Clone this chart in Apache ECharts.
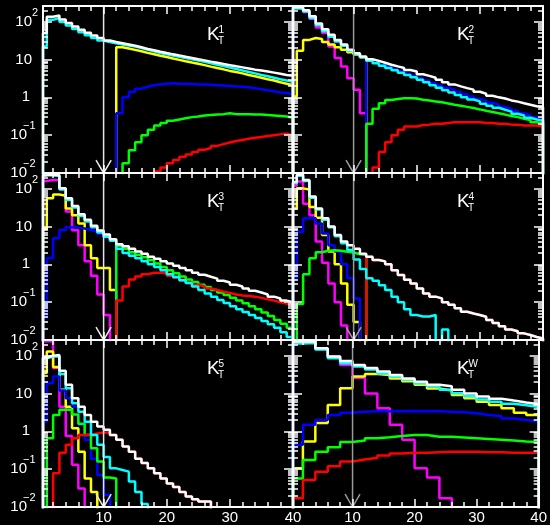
<!DOCTYPE html>
<html>
<head>
<meta charset="utf-8">
<title>K_T distributions</title>
<script src="https://cdn.jsdelivr.net/npm/echarts@6.0.0/dist/echarts.min.js"></script>
<style>
html,body{margin:0;padding:0;background:#000;}
#chart{width:550px;height:525px;}
</style>
</head>
<body>
<div id="chart"></div>
<script>
// ---------------- data ----------------
const panelSuperscripts = ['1', '2', '3', '4', '5', 'W'];
const binWidths = [1, 1, 1, 1, 1, 2];
const xTickLabels = [10, 20, 30, 40];
const xMinorTicks = [2, 4, 6, 8, 12, 14, 16, 18, 22, 24, 26, 28, 32, 34, 36, 38];
const yTickValues = [0.01, 0.1, 1, 10, 100];
const yMinorTicks = [0.02, 0.03, 0.04, 0.05, 0.06, 0.07, 0.08, 0.09,
  0.2, 0.3, 0.4, 0.5, 0.6, 0.7, 0.8, 0.9, 2, 3, 4, 5, 6, 7, 8, 9,
  20, 30, 40, 50, 60, 70, 80, 90, 200];
const cutValue = 10;

// K_T^1
const k1White = [50,136,145,115,92,75,61,51,43,37,
  32,29,27,25,23,21,19,17.5,16,14.8,
  13.7,12.7,11.8,11,10.2,9.5,8.8,8.2,7.6,7.1,
  6.6,6.2,5.8,5.4,5.1,4.8,4.5,4.2,3.9,3.7];
const k1Cyan = [22,112,125,98,79,64,53,44,37,32,
  29,27,25,23.5,22,20,18,16.5,14.8,13.8,
  12.8,11.9,11,10.2,9.4,8.7,8.0,7.3,6.7,6.1,
  5.6,5.1,4.7,4.3,3.9,3.6,3.3,3.0,2.8,2.6];
const k1Yellow = [0,0,0,0,0,0,0,0,0,0,
  0,0,21,19.5,18,16.5,15,13.8,12.6,11.6,
  10.6,9.8,9.0,8.3,7.7,7.1,6.5,6.0,5.5,5.0,
  4.7,4.3,3.9,3.6,3.3,3.0,2.8,2.5,2.3,2.1];
const k1Blue = [0,0,0,0,0,0,0,0,0,0,
  0,0,0.38,1.0,1.4,1.7,1.9,2.1,2.2,2.3,
  2.35,2.3,2.3,2.25,2.2,2.2,2.15,2.1,2.05,2.0,
  1.95,1.9,1.85,1.75,1.65,1.55,1.45,1.35,1.3,1.2];
const k1Green = [0,0,0,0,0,0,0,0,0,0,
  0,0,0,0.018,0.04,0.065,0.1,0.14,0.18,0.21,
  0.24,0.26,0.28,0.3,0.31,0.33,0.34,0.35,0.36,0.38,
  0.36,0.36,0.36,0.35,0.35,0.34,0.33,0.32,0.31,0.29];
const k1Red = [0,0,0,0,0,0,0,0,0,0,
  0,0,0,0,0,0,0,0,0.011,0.014,
  0.018,0.022,0.027,0.031,0.036,0.041,0.046,0.052,0.058,0.064,
  0.07,0.075,0.08,0.085,0.09,0.095,0.1,0.105,0.11,0.1];

// K_T^2
const k2White = [240,240,200,140,90,63,45,33,25,18,
  14.7,12,10.2,9.2,8.2,7.3,6.6,6.0,5.3,4.8,
  4.1,3.7,3.3,2.9,2.5,2.2,1.95,1.75,1.6,1.4,
  1.25,1.1,1.0,0.93,0.83,0.77,0.7,0.64,0.58,0.55];
const k2Cyan = [225,225,185,125,80,56,40,30,23,17,
  14,11.5,9.3,8.0,6.8,6.0,5.2,4.5,3.9,3.4,
  2.9,2.5,2.1,1.8,1.55,1.35,1.15,1.0,0.88,0.78,
  0.68,0.6,0.53,0.47,0.42,0.37,0.33,0.29,0.26,0.24];
const k2Yellow = [1.05,17,33,37,35,29,25,21,18,15.5,
  13.5,11.5,0,0,0,0,0,0,0,0,
  0,0,0,0,0,0,0,0,0,0,
  0,0,0,0,0,0,0,0,0,0];
const k2Magenta = [240,230,180,120,70,50,22,11,6.5,3.2,
  1.6,0.38,0,0,0,0,0,0,0,0,
  0,0,0,0,0,0,0,0,0,0,
  0,0,0,0,0,0,0,0,0,0];
const k2Blue = [0,0,0,0,0,0,0,0,0,0,
  0,0,9.6,8.3,7.1,6.3,5.5,4.8,4.2,3.7,
  3.2,2.8,2.4,2.1,1.8,1.6,1.4,1.2,1.05,0.92,
  0.82,0.72,0.64,0.56,0.5,0.44,0.38,0.34,0.3,0.28];
const k2Green = [0,0,0,0,0,0,0,0,0,0,
  0,0,0.2,0.5,0.7,0.85,0.9,0.95,0.95,0.93,
  0.86,0.82,0.78,0.74,0.69,0.64,0.6,0.56,0.52,0.48,
  0.44,0.41,0.38,0.35,0.32,0.3,0.27,0.25,0.22,0.2];
const k2Red = [0,0,0,0,0,0,0,0,0,0,
  0,0,0,0.014,0.036,0.065,0.1,0.14,0.17,0.17,
  0.185,0.19,0.2,0.2,0.21,0.22,0.22,0.22,0.22,0.22,
  0.21,0.21,0.2,0.2,0.19,0.19,0.18,0.18,0.18,0.17];

// K_T^3
const k3White = [225,235,230,102,56,35,21,15,10.5,7.8,
  6.2,4.6,3.4,3.0,2.6,2.2,1.9,1.6,1.4,1.2,
  1.05,0.92,0.8,0.7,0.6,0.53,0.47,0.42,0.37,0.33,
  0.29,0.26,0.23,0.2,0.18,0.16,0.14,0.125,0.11,0.1];
const k3Cyan = [235,225,215,95,50,32,19,13.5,9.5,7.0,
  5.4,4.2,2.6,2.0,1.7,1.45,1.2,1.0,0.85,0.7,
  0.55,0.46,0.38,0.32,0.26,0.21,0.17,0.14,0.115,0.095,
  0.078,0.065,0.055,0.046,0.038,0.032,0.026,0.021,0.016,0.012];
const k3Yellow = [8.9,56,70,65,30,20,12,3.2,1.45,0.8,
  0.8,0.21,0,0,0,0,0,0,0,0,
  0,0,0,0,0,0,0,0,0,0,
  0,0,0,0,0,0,0,0,0,0];
const k3Magenta = [160,170,170,100,25,8,3.2,1.2,0.5,0.16,
  0.046,0,0,0,0,0,0,0,0,0,
  0,0,0,0,0,0,0,0,0,0,
  0,0,0,0,0,0,0,0,0,0];
const k3Blue = [0.04,1.45,4.9,8.1,9.5,9.5,8.9,8.1,7.3,6.3,
  5.2,4.3,0,0,0,0,0,0,0,0,
  0,0,0,0,0,0,0,0,0,0,
  0,0,0,0,0,0,0,0,0,0];
const k3Green = [0,0,0,0,0,0,0,0,0,0,
  0,0,3.1,2.6,2.1,1.8,1.55,1.3,1.05,0.85,
  0.7,0.58,0.48,0.4,0.34,0.29,0.25,0.21,0.18,0.155,
  0.13,0.11,0.093,0.078,0.065,0.053,0.043,0.034,0.027,0.021];
const k3Red = [0,0,0,0,0,0,0,0,0,0,
  0,0,0.11,0.26,0.4,0.48,0.55,0.6,0.6,0.58,
  0.5,0.44,0.38,0.33,0.29,0.26,0.23,0.21,0.19,0.175,
  0.16,0.15,0.145,0.14,0.13,0.12,0.11,0.1,0.092,0.085];

// K_T^4
const k4White = [150,235,170,62,30,16.5,10,6,4,3.2,
  2.6,1.9,1.6,1.3,1.2,1.0,0.7,0.52,0.39,0.31,
  0.23,0.17,0.14,0.126,0.1,0.085,0.069,0.056,0.05,0.046,
  0.041,0.034,0.028,0.023,0.019,0.017,0.015,0.0135,0.012,0.011];
const k4Cyan = [140,220,160,58,28,15,9.5,5.5,3.6,2.4,
  1.35,0.75,0.43,0.37,0.28,0.21,0.14,0.1,0.065,0.046,
  0.042,0.042,0.046,0,0.019,0,0,0,0,0,
  0,0,0,0,0,0,0,0,0,0];
const k4Yellow = [30,102,95,33,17,6,2.2,1.0,0.31,0.085,
  0.03,0,0,0,0,0,0,0,0,0,
  0,0,0,0,0,0,0,0,0,0,
  0,0,0,0,0,0,0,0,0,0];
const k4Magenta = [120,155,40,20,4,1.1,0.31,0.1,0.024,0,
  0,0,0,0,0,0,0,0,0,0,
  0,0,0,0,0,0,0,0,0,0,
  0,0,0,0,0,0,0,0,0,0];
const k4Blue = [0.43,7.3,16.5,16.5,12,6.5,3.2,2.2,1.0,0.43,
  0.126,0,0,0,0,0,0,0,0,0,
  0,0,0,0,0,0,0,0,0,0,
  0,0,0,0,0,0,0,0,0,0];
const k4Green = [0,0.09,0.55,1.45,2.1,2.3,2.35,2.3,2.15,2.05,
  1.85,1.8,0,0,0,0,0,0,0,0,
  0,0,0,0,0,0,0,0,0,0,
  0,0,0,0,0,0,0,0,0,0];
const k4Red = [0,0,0,0,0,0,0,0,0,0,
  0,0,1.6,1.3,1.2,1.0,0.7,0.52,0.39,0.31,
  0.23,0.17,0.14,0.126,0.1,0.085,0.069,0.056,0.05,0.046,
  0.041,0.034,0.028,0.023,0.019,0.017,0.015,0.0135,0.012,0.011];

// K_T^5
const k5White = [90,100,105,40,17,7.5,4.5,2.7,1.8,1.35,
  1.1,0.8,0.6,0.4,0.29,0.19,0.145,0.105,0.078,0.057,
  0.042,0.034,0.025,0.019,0.016,0.014,0.014,0,0,0,
  0,0,0,0,0,0,0,0,0,0];
const k5Cyan = [85,95,95,33,13.8,5.5,3.3,1.8,0.8,0.44,
  0.21,0.105,0.095,0.086,0.047,0.025,0.012,0,0,0,
  0,0,0,0,0,0,0,0,0,0,
  0,0,0,0,0,0,0,0,0,0];
const k5Yellow = [35,129,50,12.5,4.5,1.2,0.29,0.057,0.025,0,
  0,0,0,0,0,0,0,0,0,0,
  0,0,0,0,0,0,0,0,0,0,
  0,0,0,0,0,0,0,0,0,0];
const k5Magenta = [240,240,47,4.5,0.75,0.13,0.031,0,0,0,
  0,0,0,0,0,0,0,0,0,0,
  0,0,0,0,0,0,0,0,0,0,
  0,0,0,0,0,0,0,0,0,0];
const k5Blue = [1.8,19,28,12,7.5,4.5,1.5,0.6,0.19,0.07,
  0.021,0,0,0,0,0,0,0,0,0,
  0,0,0,0,0,0,0,0,0,0,
  0,0,0,0,0,0,0,0,0,0];
const k5Green = [0,0.66,2.7,3.7,3.8,2.8,1.6,0.8,0.36,0.16,
  0.06,0.057,0,0,0,0,0,0,0,0,
  0,0,0,0,0,0,0,0,0,0,
  0,0,0,0,0,0,0,0,0,0];
const k5Red = [0,0,0.078,0.27,0.44,0.66,0.8,0.82,0.88,0.93,
  0.93,0.8,0.6,0.4,0.29,0.19,0.145,0.105,0.078,0.057,
  0.042,0.034,0.025,0.019,0.016,0.014,0.014,0,0,0,
  0,0,0,0,0,0,0,0,0,0];

// K_T^W (2-unit bins)
const kWWhite = [235,235,158,95,72,57,47,38,31,25,20.5,17,15.5,12.5,10,8.3,7.3,6.5,5.8,5.2];
const kWCyan = [210,215,145,86,63,52,43,34,28,23,18.5,15.5,12.5,10.2,8.5,7.0,6.1,5.4,4.9,4.4];
const kWYellow = [0.105,0.54,1.65,5,13.8,28,33,31,25,21,17,13.5,12,9.1,7.5,6.1,5.0,4.1,3.1,2.7];
const kWMagenta = [230,230,150,95,57,26,10,4.1,1.5,0.6,0.105,0.06,0.017,0,0,0,0,0,0,0];
const kWBlue = [0.44,1.5,2.0,2.7,3.1,3.3,3.4,3.4,3.4,3.45,3.4,3.4,3.3,3.2,3.0,2.7,2.5,2.2,2.0,1.8];
const kWGreen = [0.057,0.175,0.29,0.38,0.52,0.57,0.66,0.7,0.75,0.8,0.8,0.72,0.72,0.69,0.66,0.63,0.6,0.57,0.54,0.52];
const kWRed = [0.017,0.052,0.086,0.12,0.16,0.18,0.2,0.23,0.26,0.27,0.27,0.28,0.29,0.29,0.29,0.28,0.28,0.27,0.27,0.27];

// ---------------- chart ----------------
const X_MIN = 0.4, X_MAX = 40, Y_MIN = 0.01, Y_MAX = 260;
const EMPTY = 1e-4;              // empty bins: below the axis floor, clipped away
const ARROW_DX = 1.2, ARROW_RISE = 2.2;
const FONT = '"Liberation Sans", Arial, Helvetica, sans-serif';
const COLORS = {magenta: '#ff00ff', yellow: '#ffff00', blue: '#0000ff', green: '#00ff00',
  red: '#ff0000', cyan: '#00ffff', white: '#ffffff'};
const DRAW_ORDER = ['magenta', 'yellow', 'blue', 'green', 'red', 'cyan', 'white'];
const panelData = [
  {yellow: k1Yellow, blue: k1Blue, green: k1Green, red: k1Red, cyan: k1Cyan, white: k1White},
  {magenta: k2Magenta, yellow: k2Yellow, blue: k2Blue, green: k2Green, red: k2Red, cyan: k2Cyan, white: k2White},
  {magenta: k3Magenta, yellow: k3Yellow, blue: k3Blue, green: k3Green, red: k3Red, cyan: k3Cyan, white: k3White},
  {magenta: k4Magenta, yellow: k4Yellow, blue: k4Blue, green: k4Green, red: k4Red, cyan: k4Cyan, white: k4White},
  {magenta: k5Magenta, yellow: k5Yellow, blue: k5Blue, green: k5Green, red: k5Red, cyan: k5Cyan, white: k5White},
  {magenta: kWMagenta, yellow: kWYellow, blue: kWBlue, green: kWGreen, red: kWRed, cyan: kWCyan, white: kWWhite}
];
const GRID_LEFT = [43, 293], GRID_TOP = [6, 173, 340], GRID_W = 250, GRID_H = 167;

function histPoints(values, w) {
  const pts = [[X_MIN, EMPTY]];
  values.forEach(function (v, i) {
    pts.push([Math.max(i * w, X_MIN), v > 0 ? v : EMPTY]);
  });
  const last = values[values.length - 1];
  pts.push([X_MAX, last > 0 ? last : EMPTY]);
  pts.push([X_MAX, EMPTY]);
  return pts;
}

function decade(v) { return Math.round(Math.log10(v)); }
// mantissa part of each log label ("10" or "1")
function yBaseLabel(v) {
  const e = decade(v);
  if (e === 0) return '{o|1}';
  if (e < 0) return '{n|10}';
  return '{p|10}';
}
// exponent part of each log label
function yExpLabel(v) {
  const e = decade(v);
  if (e === 0 || e === 1) return '';
  if (e < 0) return '{n|\u2212' + Math.abs(e) + '}';
  return '{q|' + e + '}';
}

function xAxisDef(gi, pos, major, labels) {
  return {
    type: 'value', gridIndex: gi, position: pos, min: X_MIN, max: X_MAX, z: 5,
    axisLine: {show: major, onZero: false, lineStyle: {color: '#ffffff', width: 2}},
    axisTick: {show: true, inside: true, length: major ? 8 : 5,
      customValues: major ? xTickLabels : xMinorTicks,
      lineStyle: {color: '#ffffff', width: 1.5}},
    axisLabel: {show: labels, customValues: xTickLabels, color: '#ffffff',
      fontSize: 15, fontFamily: FONT, margin: 3},
    splitLine: {show: false}
  };
}
function yAxisDef(gi, pos, major, labels) {
  const base = {fontFamily: FONT, color: '#ffffff'};
  const label = major ? {
    show: labels, customValues: yTickValues, formatter: yBaseLabel, align: 'right', margin: 3,
    rich: {
      o: Object.assign({fontSize: 15, padding: [0, 10, 0, 0]}, base),
      p: Object.assign({fontSize: 15, padding: [0, 8, 0, 0]}, base),
      n: Object.assign({fontSize: 15, padding: [0, 13, 0, 0]}, base)
    }
  } : {
    show: labels, customValues: yTickValues, formatter: yExpLabel, align: 'left', margin: 20,
    rich: {
      q: Object.assign({fontSize: 11, padding: [0, 0, 18, 9]}, base),
      n: Object.assign({fontSize: 11, padding: [0, 0, 18, 0]}, base)
    }
  };
  return {
    type: 'log', logBase: 10, gridIndex: gi, position: pos, min: Y_MIN, max: Y_MAX, z: 5,
    axisLine: {show: major, onZero: false, lineStyle: {color: '#ffffff', width: 2}},
    axisTick: {show: true, inside: true, length: major ? 9 : 5,
      customValues: major ? yTickValues : yMinorTicks,
      lineStyle: {color: '#ffffff', width: 1.5}},
    axisLabel: label,
    splitLine: {show: false}
  };
}

const grids = [], xAxes = [], yAxes = [], series = [], graphics = [];
panelData.forEach(function (pd, p) {
  const row = Math.floor(p / 2), col = p % 2;
  const gl = GRID_LEFT[col], gt = GRID_TOP[row];
  grids.push({left: gl, top: gt, width: GRID_W, height: GRID_H, show: false});
  const xBase = xAxes.length, yBase = yAxes.length;
  ['bottom', 'top'].forEach(function (pos) {
    xAxes.push(xAxisDef(p, pos, true, row === 2 && pos === 'bottom'));
    xAxes.push(xAxisDef(p, pos, false, false));
  });
  ['left', 'right'].forEach(function (pos) {
    const lab = col === 0 && pos === 'left';
    yAxes.push(yAxisDef(p, pos, true, lab));
    yAxes.push(yAxisDef(p, pos, false, lab));
  });
  DRAW_ORDER.forEach(function (name) {
    const vals = pd[name];
    if (!vals) return;
    series.push({
      type: 'line', xAxisIndex: xBase, yAxisIndex: yBase,
      data: histPoints(vals, binWidths[p]), step: 'end',
      symbol: 'none', showSymbol: false, silent: true, clip: true, z: 2,
      lineStyle: {color: COLORS[name], width: 2.5}, itemStyle: {color: COLORS[name]}
    });
  });
  series.push({
    type: 'line', xAxisIndex: xBase, yAxisIndex: yBase,
    data: [[cutValue, Y_MAX], [cutValue, Y_MIN], [cutValue - ARROW_DX, Y_MIN * ARROW_RISE],
      [cutValue, Y_MIN], [cutValue + ARROW_DX, Y_MIN * ARROW_RISE]],
    symbol: 'none', showSymbol: false, silent: true, clip: true, z: 3,
    lineStyle: {color: col === 0 ? '#e6e6e6' : '#9a9a9a', width: 1.5}
  });
  const txt = function (s, x, y, size) {
    return {type: 'text', x: x, y: y, silent: true, z: 10,
      style: {text: s, fill: '#ffffff', font: size + 'px ' + FONT,
        align: 'left', verticalAlign: 'middle', textAlign: 'left', textVerticalAlign: 'middle'}};
  };
  graphics.push(txt('K', gl + 164, gt + 28.5, 19));
  graphics.push(txt('T', gl + 175, gt + 35, 10));
  graphics.push(txt(panelSuperscripts[p], gl + 175.5, gt + 24.5, 10));
});

const chart = echarts.init(document.getElementById('chart'), null, {renderer: 'canvas'});
chart.setOption({
  backgroundColor: '#000000',
  animation: false,
  grid: grids,
  xAxis: xAxes,
  yAxis: yAxes,
  series: series,
  graphic: {elements: graphics}
});
</script>
</body>
</html>
